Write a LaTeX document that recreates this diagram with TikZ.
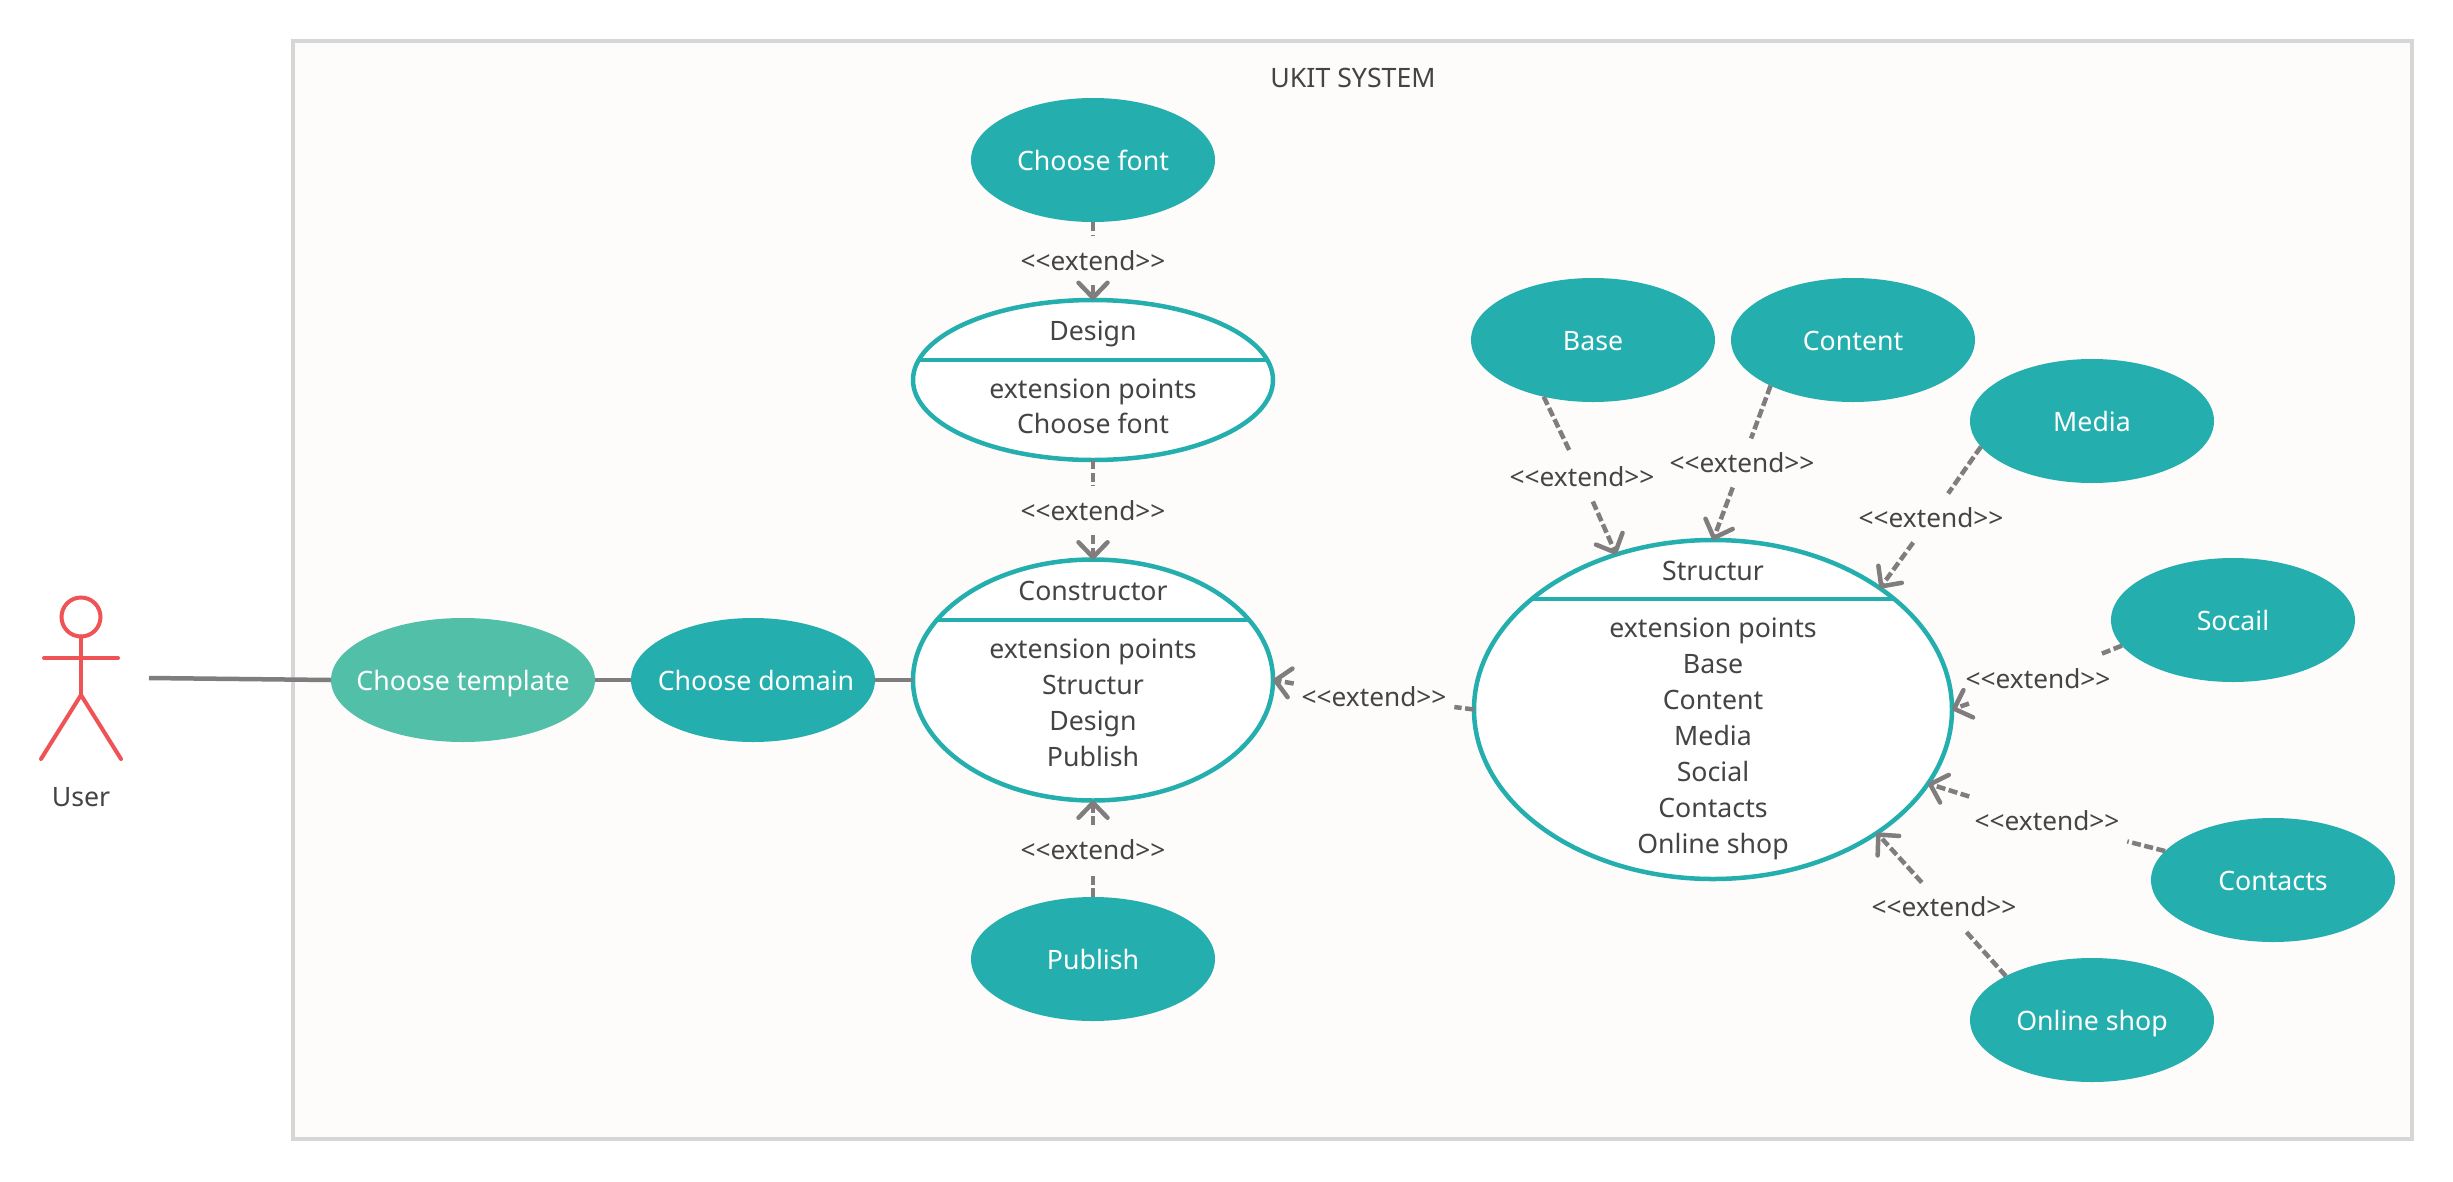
\documentclass[tikz,border=0pt]{standalone}
\usepackage{fontspec}
\setmainfont{Noto Sans}
\usetikzlibrary{shapes.geometric,arrows.meta}
\definecolor{teal1}{HTML}{24AFAE}
\definecolor{mint}{HTML}{52C0A9}
\definecolor{paper}{HTML}{FDFCFB}
\definecolor{framec}{HTML}{D6D6D6}
\definecolor{linec}{HTML}{7F7D7D}
\definecolor{textc}{HTML}{444444}
\definecolor{actorc}{HTML}{F05355}
\newcommand{\ext}{{<}\kern0pt{<}extend{>}\kern0pt{>}}
\tikzset{
  x=1pt,y=-1pt,
  txt/.style={font=\fontsize{26.7}{30}\selectfont,text=textc,inner sep=0pt,outer sep=0pt,anchor=base},
  small/.style={ellipse,fill=teal1,draw=none,minimum width=244pt,minimum height=124pt,inner sep=0pt,outer sep=0pt},
  inside/.style={txt,text=white},
  usecase/.style={ellipse,fill=white,draw=teal1,line width=4.5pt,inner sep=0pt,outer sep=0pt},
  chord/.style={draw=teal1,line width=4.5pt},
  solidline/.style={draw=linec,line width=4.5pt},
  dashline/.style={draw=linec,line width=4.5pt,dash pattern=on 9pt off 3.5pt},
  extline/.style={dashline,-{Straight Barb[round,length=15pt,width=29pt,line width=4.5pt]}},
  extlabel/.style={txt,font=\fontsize{26.2}{30}\selectfont,text height=34pt,text depth=15pt,inner xsep=8pt},
  actor/.style={draw=actorc,line width=4pt,line cap=round}
}
\begin{document}
\begin{tikzpicture}
\useasboundingbox (0,0) rectangle (2453,1181);
\fill[white] (0,0) rectangle (2453,1181);
\draw[draw=framec,fill=paper,line width=4pt] (293,41) rectangle (2412,1139);
\node[txt] (title) at (1353,87) {UKIT SYSTEM};

% actor
\node[circle,draw=actorc,line width=4pt,minimum size=39pt,inner sep=0pt,outer sep=0pt] (head) at (81,617) {};
\coordinate (neck) at (81,695);
\coordinate (armL) at (44,658);
\coordinate (armR) at (118,658);
\coordinate (legL) at (41,759);
\coordinate (legR) at (121,759);
\draw[actor] (head.south) -- (neck);
\draw[actor] (armL) -- (armR);
\draw[actor] (legL) -- (neck) -- (legR);
\node[txt] (user) at (81,806) {User};
\coordinate (userend) at (149,678);

% small use cases
\node[small,fill=mint,minimum width=264pt] (template) at (463,680) {};
\node[small] (domain) at (753,680) {};
\node[small] (font) at (1093,160) {};
\node[small] (publish) at (1093,959) {};
\node[small] (base) at (1593,340) {};
\node[small] (content) at (1853,340) {};
\node[small] (media) at (2092,421) {};
\node[small] (socail) at (2233,620) {};
\node[small] (contacts) at (2273,880) {};
\node[small] (shop) at (2092,1020) {};
\node[inside] (ttemplate) at (463,690) {Choose template};
\node[inside] (tdomain) at (756,690) {Choose domain};
\node[inside] (tfont) at (1093,170) {Choose font};
\node[inside] (tpublish) at (1093,969) {Publish};
\node[inside] (tbase) at (1593,350) {Base};
\node[inside] (tcontent) at (1853,350) {Content};
\node[inside] (tmedia) at (2092,431) {Media};
\node[inside] (tsocail) at (2233,630) {Socail};
\node[inside] (tcontacts) at (2273,890) {Contacts};
\node[inside] (tshop) at (2092,1030) {Online shop};

% big use cases
\node[usecase,minimum width=360pt,minimum height=160pt] (design) at (1093,380) {};
\node[usecase,minimum width=360pt,minimum height=241pt] (constructor) at (1093,680) {};
\node[usecase,minimum width=478pt,minimum height=339pt] (structur) at (1713,709.5) {};
\draw[chord] (918.7,360) -- (1267.3,360);
\draw[chord] (937,620) -- (1249,620);
\draw[chord] (1531.8,599) -- (1894.2,599);

\node[txt] (d1) at (1093,340) {Design};
\node[txt] (d2) at (1093,398) {extension points};
\node[txt] (d3) at (1093,433) {Choose font};

\node[txt] (c1) at (1093,600) {Constructor};
\node[txt] (c2) at (1093,658) {extension points};
\node[txt] (c3) at (1093,694) {Structur};
\node[txt] (c4) at (1093,730) {Design};
\node[txt] (c5) at (1093,766) {Publish};

\node[txt] (s1) at (1713,580) {Structur};
\node[txt] (s2) at (1713,637) {extension points};
\node[txt] (s3) at (1713,673) {Base};
\node[txt] (s4) at (1713,709) {Content};
\node[txt] (s5) at (1713,745) {Media};
\node[txt] (s6) at (1713,781) {Social};
\node[txt] (s7) at (1713,817) {Contacts};
\node[txt] (s8) at (1713,853) {Online shop};

% solid connectors
\draw[solidline] (userend) -- (template.west);
\draw[solidline] (template.east) -- (domain.west);
\draw[solidline] (domain.east) -- (constructor.west);

% extend labels
\node[extlabel] (l1) at (1093,270) {\ext};
\node[extlabel] (l2) at (1093,520) {\ext};
\node[extlabel] (l3) at (1093,859) {\ext};
\node[extlabel] (l4) at (1374,706.5) {\ext};
\node[extlabel] (l5) at (1582,486.5) {\ext};
\node[extlabel] (l6) at (1742,472.5) {\ext};
\node[extlabel] (l7) at (1931,527.5) {\ext};
\node[extlabel] (l8) at (2038,688.5) {\ext};
\node[extlabel] (l9) at (2047,830.5) {\ext};
\node[extlabel] (l10) at (1944,916.5) {\ext};

% extend connectors, interrupted by their labels
\draw[dashline] (font.south) -- (l1);
\draw[extline] (l1) -- (design.north);
\draw[dashline] (design.south) -- (l2);
\draw[extline] (l2) -- (constructor.north);
\draw[dashline] (publish.north) -- (l3);
\draw[extline] (l3) -- (constructor.south);
\draw[dashline] (structur.west) -- (l4);
\draw[extline] (l4) -- (constructor.east);
\draw[dashline] (base.229) -- (l5);
\draw[extline] (l5) -- (structur.122);
\draw[dashline] (content.209) -- (l6);
\draw[extline] (l6) -- (structur.north);
\draw[dashline] (media.193.4) -- (l7);
\draw[extline] (l7) -- (structur.36.5);
\draw[dashline] (socail.193) -- (l8);
\draw[extline] (l8) -- (structur.east);
\draw[dashline] (contacts.165.7) -- (l9);
\draw[extline] (l9) -- (structur.-19.3);
\draw[dashline] (shop.153.4) -- (l10);
\draw[extline] (l10) -- (structur.-37.5);
\end{tikzpicture}
\end{document}
